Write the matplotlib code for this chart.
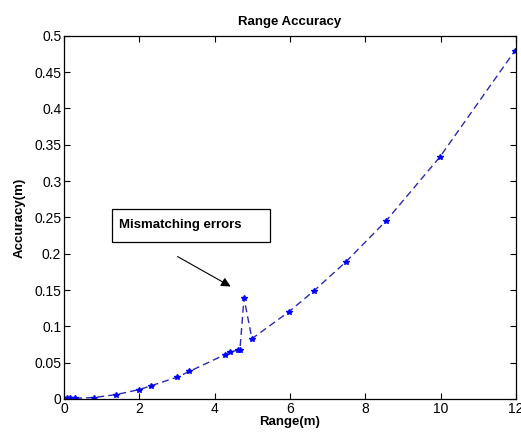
import numpy as np
import matplotlib
matplotlib.use('Agg')
import matplotlib.pyplot as plt
from matplotlib.patches import Rectangle

plt.rcParams['font.family'] = ['Liberation Sans', 'DejaVu Sans']

# values
range_m = [0.0, 0.08, 0.15, 0.3, 0.8, 1.38, 2.0, 2.3, 3.0, 3.33,
           4.27, 4.41, 4.62, 4.67, 4.78, 4.99, 5.97, 6.64, 7.49, 8.55, 9.98, 11.97]
accuracy_m = [0.0, 0.001, 0.001, 0.001, 0.002, 0.006, 0.013, 0.018, 0.030, 0.038,
              0.061, 0.065, 0.067, 0.067, 0.139, 0.083, 0.120, 0.149, 0.189, 0.245, 0.333, 0.479]

fig = plt.figure(figsize=(5.21, 4.37), dpi=100)
ax = fig.add_axes([0.123, 0.087, 0.867, 0.831])

ax.plot(range_m, accuracy_m, color='#2a2ab0', linestyle='--', dashes=(5, 3), linewidth=1.0,
        marker='*', markersize=4, markerfacecolor='#0000ff', markeredgecolor='#0000ff')

ax.set_xlim(0, 12)
ax.set_ylim(0, 0.5)
ax.set_xticks(np.arange(0, 13, 2))
ax.set_yticks(np.arange(0, 0.51, 0.05))
ax.set_yticklabels(['0', '0.05', '0.1', '0.15', '0.2', '0.25', '0.3', '0.35', '0.4', '0.45', '0.5'])
ax.tick_params(direction='in', length=4, width=0.8, top=True, right=True, labelsize=10,
               colors='black', pad=2)
for s in ax.spines.values():
    s.set_linewidth(0.9)

ax.set_title('Range Accuracy', fontsize=9.5, fontweight='bold', pad=8)
ax.set_xlabel('Range(m)', fontsize=9.5, fontweight='bold', labelpad=0.5)
ax.set_ylabel('Accuracy(m)', fontsize=9.5, fontweight='bold', labelpad=6)

ax.annotate('', xy=(4.49, 0.153), xytext=(2.95, 0.198),
            arrowprops=dict(arrowstyle='-|>', color='black', lw=0.8, mutation_scale=14))
ax.add_patch(Rectangle((1.27, 0.216), 4.2, 0.046, facecolor='white', edgecolor='black',
                       linewidth=0.9, zorder=3))
ax.text(1.45, 0.240, 'Mismatching errors', fontsize=9.5, fontweight='bold', va='center', ha='left',
        zorder=4)

fig.savefig('out.png', dpi=100)
